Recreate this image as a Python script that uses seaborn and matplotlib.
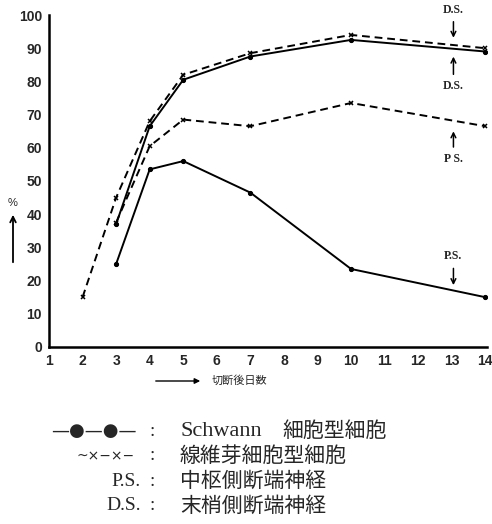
import matplotlib
matplotlib.use("Agg")
import matplotlib.pyplot as plt
import seaborn as sns

# days after cutting
days_fib_a = [2, 3, 4, 5, 7, 10, 14]
fib_a = [15, 45, 68, 82, 88.5, 94, 90]          # dashed, upper (D.S.)
days_fib_b = [3, 4, 5, 7, 10, 14]
fib_b = [37.5, 60.5, 68.5, 66.5, 73.5, 66.5]    # dashed, middle (P.S.)
days_sch = [3, 4, 5, 7, 10, 14]
sch_ds = [37, 66.5, 80.5, 87.5, 92.5, 89]        # solid, upper (D.S.)
sch_ps = [25, 53.5, 56, 46.5, 23.5, 15]          # solid, lower (P.S.)

x_ticks = list(range(1, 15))
y_ticks = list(range(0, 101, 10))

sns.set_style("white")
plt.rcParams['font.family'] = ['Liberation Sans', 'Noto Sans CJK JP', 'DejaVu Sans']

fig = plt.figure(figsize=(4.92, 5.24), dpi=100)
ax = fig.add_axes([49/492, 1-347/524, 438/492, 332/524])

dash = (0, (4, 2.5))
sns.lineplot(x=days_fib_a, y=fib_a, ax=ax, color='black', lw=1.4, linestyle=dash,
             marker='x', markersize=3.2, mew=1.1, mec='black')
sns.lineplot(x=days_fib_b, y=fib_b, ax=ax, color='black', lw=1.4, linestyle=dash,
             marker='x', markersize=3.2, mew=1.1, mec='black')
sns.lineplot(x=days_sch, y=sch_ds, ax=ax, color='black', lw=1.4,
             marker='o', markersize=3, mec='black', mfc='black')
sns.lineplot(x=days_sch, y=sch_ps, ax=ax, color='black', lw=1.4,
             marker='o', markersize=3, mec='black', mfc='black')

ax.set_xlim(1, 14.05)
ax.set_ylim(0, 100)
ax.set_xticks(x_ticks)
ax.set_yticks(y_ticks)
for s in ['top', 'right']:
    ax.spines[s].set_visible(False)
for s in ['left', 'bottom']:
    ax.spines[s].set_linewidth(1.8)
    ax.spines[s].set_color('black')
ax.tick_params(direction='inout', length=6, width=1.5, labelsize=10, pad=2)
for lab in ax.get_xticklabels() + ax.get_yticklabels():
    lab.set_fontweight('bold')
ax.grid(False)

serif = ['Liberation Serif', 'DejaVu Serif']
arw = dict(arrowstyle='->', color='black', lw=1.1)
# annotations
ax.annotate('D.S.', xy=(13.05, 92.3), xytext=(13.05, 99.8), ha='center', va='bottom',
            fontsize=8.5, fontweight='bold', family=serif, annotation_clip=False,
            arrowprops=arw)
ax.annotate('D.S.', xy=(13.05, 88.3), xytext=(13.05, 80.3), ha='center', va='top',
            fontsize=8.5, fontweight='bold', family=serif, arrowprops=arw)
ax.annotate('P S.', xy=(13.05, 65.8), xytext=(13.05, 58.4), ha='center', va='top',
            fontsize=8.5, fontweight='bold', family=serif, arrowprops=arw)
ax.annotate('P.S.', xy=(13.05, 17.8), xytext=(13.05, 25.5), ha='center', va='bottom',
            fontsize=8.5, fontweight='bold', family=serif, arrowprops=arw)

# y label with arrow
fig.text(13/492, 1-203/524, '%', ha='center', va='center', fontsize=8)
fig.add_artist(matplotlib.patches.FancyArrowPatch(
    (13/492, 1-265/524), (13/492, 1-212/524), transform=fig.transFigure,
    arrowstyle='->', mutation_scale=10, color='black', lw=1.3))

# x label with arrow
fig.add_artist(matplotlib.patches.FancyArrowPatch(
    (153/492, 1-381/524), (203/492, 1-381/524), transform=fig.transFigure,
    arrowstyle='-|>', mutation_scale=8, color='black', lw=1.0))
fig.text(212/492, 1-381/524, '切断後日数', ha='left', va='center', fontsize=8,
         family=['Noto Sans CJK JP', 'DejaVu Sans'])

# key below the chart
cjk = ['Noto Sans CJK JP', 'DejaVu Sans']
keys = ['—●—●—', '~×−×−', 'P.S.', 'D.S.']
descs = [None, '線維芽細胞型細胞', '中枢側断端神経', '末梢側断端神経']
rows_y = [431, 456, 481, 506]
for i, (k, yy) in enumerate(zip(keys, rows_y)):
    fy = 1 - yy/524
    if i == 0:
        fig.text(137/492, fy, k, ha='right', va='center', fontsize=13, family=['DejaVu Sans'])
    elif i == 1:
        fig.text(135/492, fy, k, ha='right', va='center', fontsize=10, family=['DejaVu Sans'])
    else:
        fig.text(141/492, fy, k, ha='right', va='center', fontsize=14, family=serif)
    fig.text(152/492, fy, ':', ha='center', va='center', fontsize=14, family=serif)
    if i == 0:
        fig.text(180/492, fy, 'Schwann', ha='left', va='center', fontsize=16, family=serif)
        fig.text(282/492, fy, '細胞型細胞', ha='left', va='center', fontsize=15, family=cjk)
    else:
        fig.text(180/492, fy, descs[i], ha='left', va='center', fontsize=15, family=cjk)

fig.savefig('out.png', dpi=100)
